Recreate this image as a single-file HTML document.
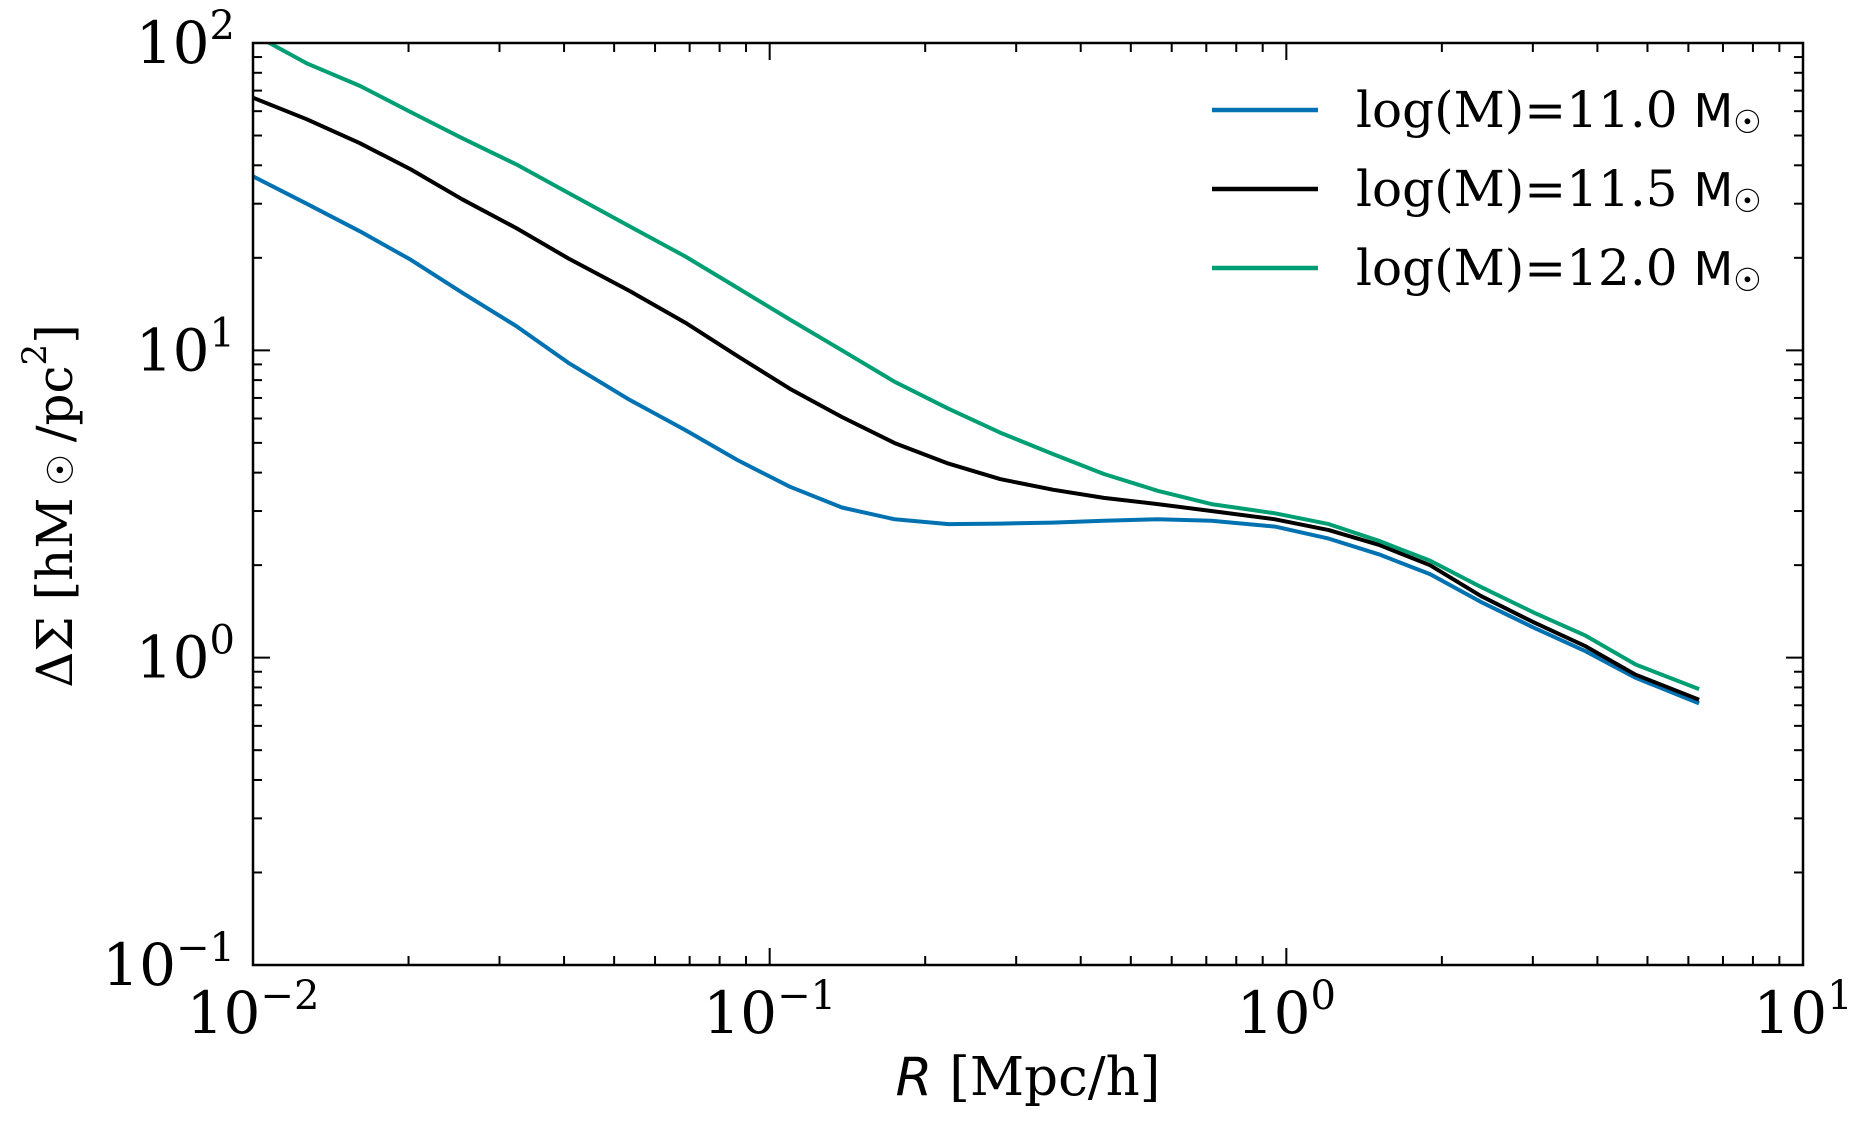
<!DOCTYPE html>
<html><head><meta charset="utf-8"><style>
html,body{margin:0;padding:0;background:#fff;}
svg{display:block;}
</style></head><body>
<svg id="chart" width="1872" height="1134" viewBox="0 0 1872 1134" xmlns="http://www.w3.org/2000/svg">
<g id="series"></g>
<g id="axes"></g>
<g id="legend"></g>
<text x="55" y="506" transform="rotate(-90 55 506)" text-anchor="middle" dominant-baseline="central" font-family="'DejaVu Serif','Liberation Serif',serif" font-size="50">ΔΣ [hM<tspan font-family="'DejaVu Sans',sans-serif" font-size="36" dy="6"> ☉ </tspan><tspan dy="-6">/pc</tspan><tspan font-size="34" dy="-20">2</tspan><tspan dy="20">]</tspan></text>
<text x="1028" y="1095" text-anchor="middle" font-family="'DejaVu Serif','Liberation Serif',serif" font-size="53"><tspan font-family="'DejaVu Sans',sans-serif" font-style="italic">R</tspan> [Mpc/h]</text>
</svg>
<script>
const R = [0.0100,0.0127,0.0161,0.0202,0.0254,0.0323,0.0408,0.0536,0.0687,0.0865,0.1094,0.1380,0.1746,0.2218,0.2793,0.3532,0.4436,0.5636,0.7161,0.9506,1.208,1.510,1.897,2.377,3.020,3.793,4.742,6.295];
const blue = [36.8,30.0,24.4,19.7,15.4,12.0,9.1,6.9,5.5,4.4,3.6,3.08,2.82,2.72,2.73,2.75,2.79,2.82,2.79,2.67,2.44,2.17,1.87,1.52,1.25,1.05,0.86,0.71];
const black = [66.4,56.5,47.2,38.8,31.0,25.0,19.9,15.6,12.3,9.6,7.5,6.07,4.99,4.28,3.81,3.52,3.31,3.16,3.0,2.82,2.60,2.33,2.0,1.59,1.30,1.09,0.88,0.73];
const green = [107,85.9,72.5,59.6,49.0,40.3,32.5,25.3,20.2,16.0,12.6,10.0,7.9,6.46,5.4,4.6,3.96,3.49,3.16,2.95,2.72,2.40,2.07,1.70,1.40,1.18,0.95,0.79];
const xTicks = [0.01,0.1,1,10];
const xTickLabels = ["\u22122","\u22121","0","1"];
const yTicks = [0.1,1,10,100];
const yTickLabels = ["\u22121","0","1","2"];
const legendLabels = ["log(M)=11.0 ","log(M)=11.5 ","log(M)=12.0 "];

const L=253,Rt=1803,T=43,B=965;
const xmin=-2,xmax=1,ymin=-1,ymax=2;
const NS="http://www.w3.org/2000/svg";
function X(v){return L+(Math.log10(v)-xmin)/(xmax-xmin)*(Rt-L);}
function Y(v){return B-(Math.log10(v)-ymin)/(ymax-ymin)*(B-T);}
function mk(tag,attrs,parent){const e=document.createElementNS(NS,tag);for(const k in attrs)e.setAttribute(k,attrs[k]);parent.appendChild(e);return e;}

const defs=mk('defs',{},document.getElementById('chart'));
const cp=mk('clipPath',{id:'plotclip'},defs);
mk('rect',{x:L,y:T,width:Rt-L,height:B-T},cp);

const sg=document.getElementById('series');
sg.setAttribute('clip-path','url(#plotclip)');
const seriesList=[[blue,'#0072B2','series-logm-11-0'],[black,'#000000','series-logm-11-5'],[green,'#009E73','series-logm-12-0']];
seriesList.forEach(s=>{
  const d=s[0].map((v,i)=>(i?'L':'M')+X(R[i]).toFixed(1)+','+Y(v).toFixed(1)).join(' ');
  const p=mk('path',{d:d,fill:'none',stroke:s[1],'stroke-width':4,'stroke-linejoin':'round'},sg);
  
  
});

const ag=document.getElementById('axes');
const frame=mk('rect',{x:L,y:T,width:Rt-L,height:B-T,fill:'none',stroke:'#000','stroke-width':2.5},ag);


const font="'DejaVu Serif','Liberation Serif',serif";
for(let e=xmin;e<=xmax;e++){
  for(let m=1;m<=9;m++){
    const v=m*Math.pow(10,e); if(Math.log10(v)>xmax+1e-9)break;
    const x=X(v), len=m===1?17:9;
    mk('line',{x1:x,y1:B,x2:x,y2:B-len,stroke:'#000','stroke-width':2},ag);
    mk('line',{x1:x,y1:T,x2:x,y2:T+len,stroke:'#000','stroke-width':2},ag);
  }
}
for(let e=ymin;e<=ymax;e++){
  for(let m=1;m<=9;m++){
    const v=m*Math.pow(10,e); if(Math.log10(v)>ymax+1e-9)break;
    const y=Y(v), len=m===1?17:9;
    mk('line',{x1:L,y1:y,x2:L+len,y2:y,stroke:'#000','stroke-width':2},ag);
    mk('line',{x1:Rt,y1:y,x2:Rt-len,y2:y,stroke:'#000','stroke-width':2},ag);
  }
}
xTicks.forEach((v,i)=>{
  const t=mk('text',{x:X(v),y:1033,'text-anchor':'middle','font-family':font,'font-size':58},ag);
  t.textContent='10';
  const s=mk('tspan',{'font-size':40,dy:-24},t); s.textContent=xTickLabels[i];
  
  
});
yTicks.forEach((v,i)=>{
  const t=mk('text',{x:235,y:Y(v)+20,'text-anchor':'end','font-family':font,'font-size':58},ag);
  t.textContent='10';
  const s=mk('tspan',{'font-size':40,dy:-24},t); s.textContent=yTickLabels[i];
  
  
});

const lg=document.getElementById('legend');
const ly=[110,189,268];
seriesList.forEach((s,i)=>{
  const ln=mk('line',{x1:1212,y1:ly[i],x2:1318,y2:ly[i],stroke:s[1],'stroke-width':4.5},lg);
  
  
  const t=mk('text',{x:1356,y:ly[i]+17,'font-family':font,'font-size':50},lg);
  t.textContent=legendLabels[i];
  const m=mk('tspan',{'font-family':"'DejaVu Sans',sans-serif",'font-size':46},t); m.textContent='M';
  const o=mk('tspan',{'font-family':"'DejaVu Sans',sans-serif",'font-size':32,dy:6},t); o.textContent='☉';
  
  
});
</script>
</body></html>
